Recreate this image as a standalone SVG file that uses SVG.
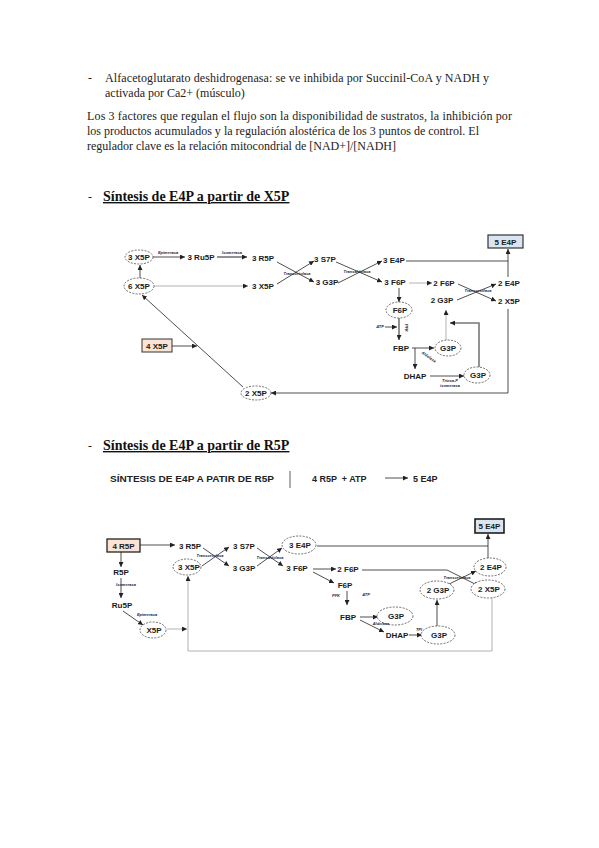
<svg xmlns="http://www.w3.org/2000/svg" width="599" height="848" viewBox="0 0 599 848">
<defs>
<style>
.b{font-family:"Liberation Serif","Times New Roman",serif;font-size:12px;fill:#222}
.h{font-family:"Liberation Serif","Times New Roman",serif;font-size:14px;font-weight:bold;fill:#111;text-decoration:underline}
.t{font-family:"Liberation Sans",Arial,sans-serif;font-size:8px;font-weight:bold;fill:#1a1a1a;text-anchor:middle}
.e{font-family:"Liberation Sans",Arial,sans-serif;font-size:9px;font-weight:bold;fill:#222}
.s{font-family:"Liberation Sans",Arial,sans-serif;font-size:4px;font-style:italic;font-weight:bold;fill:#1a2540;text-anchor:middle}
.ln{fill:none;stroke:#222;stroke-width:0.8}
.lg{fill:none;stroke:#aaa;stroke-width:0.9}
.gk{fill:none;stroke:#777;stroke-width:1.6}
.de{fill:#fff;stroke:#333;stroke-width:0.7;stroke-dasharray:2 1.3}
</style>
<marker id="a" viewBox="0 0 6 6" refX="6" refY="3" markerWidth="5" markerHeight="5" markerUnits="userSpaceOnUse" orient="auto">
<path d="M0,0 L6,3 L0,6 z" fill="#222"/>
</marker>
</defs>
<rect width="599" height="848" fill="#fff"/>

<g id="text">
<text class="b" x="88" y="82">-</text>
<text class="b" x="105" y="82" textLength="384" lengthAdjust="spacing">Alfacetoglutarato deshidrogenasa: se ve inhibida por Succinil-CoA y NADH y</text>
<text class="b" x="105" y="97">activada por Ca2+ (músculo)</text>
<text class="b" x="87" y="120" textLength="425" lengthAdjust="spacing">Los 3 factores que regulan el flujo son la disponibilidad de sustratos, la inhibición por</text>
<text class="b" x="87" y="135" textLength="392" lengthAdjust="spacing">los productos acumulados y la regulación alostérica de los 3 puntos de control. El</text>
<text class="b" x="87" y="150">regulador clave es la relación mitocondrial de [NAD+]/[NADH]</text>
<text class="b" x="88" y="201">-</text>
<text class="h" x="103" y="201">Síntesis de E4P a partir de X5P</text>
<text class="b" x="88" y="450">-</text>
<text class="h" x="103" y="450">Síntesis de E4P a partir de R5P</text>
</g>

<g id="equation">
<text class="e" x="110" y="482" textLength="164" lengthAdjust="spacingAndGlyphs">SÍNTESIS DE E4P A PATIR DE R5P</text>
<line x1="290" y1="471" x2="290" y2="488" stroke="#333" stroke-width="0.8"/>
<text class="e" x="312" y="482" xml:space="preserve">4 R5P  + ATP</text>
<line x1="385" y1="478" x2="408" y2="478" class="ln" marker-end="url(#a)"/>
<text class="e" x="413" y="482">5 E4P</text>
</g>

<g id="connectors1">
<line class="ln" x1="153" y1="257" x2="185" y2="257" marker-end="url(#a)"/>
<line class="gk" x1="217" y1="257" x2="247" y2="257" marker-end="url(#a)"/>
<line class="ln" x1="140" y1="278" x2="140" y2="265" marker-end="url(#a)"/>
<line class="lg" x1="154" y1="286" x2="248" y2="286" marker-end="url(#a)"/>
<line class="ln" x1="277" y1="262" x2="314" y2="282" marker-end="url(#a)"/>
<line class="ln" x1="277" y1="284" x2="314" y2="261" marker-end="url(#a)"/>
<line class="ln" x1="336" y1="262" x2="382" y2="282" marker-end="url(#a)"/>
<line class="ln" x1="338" y1="283" x2="382" y2="261" marker-end="url(#a)"/>
<line class="ln" x1="406" y1="261" x2="508" y2="261"/>
<line class="ln" x1="508" y1="277" x2="508" y2="249" marker-end="url(#a)"/>
<line class="lg" x1="409" y1="283" x2="432" y2="283" marker-end="url(#a)"/>
<line class="ln" x1="458" y1="284" x2="496" y2="301" marker-end="url(#a)"/>
<line class="ln" x1="457" y1="300" x2="496" y2="284" marker-end="url(#a)"/>
<line class="ln" x1="399" y1="288" x2="399" y2="302" stroke-width="1.3" marker-end="url(#a)"/>
<line class="gk" x1="399" y1="318" x2="399" y2="340" marker-end="url(#a)"/>
<line class="ln" x1="385" y1="327" x2="397" y2="327" stroke-width="0.5" marker-end="url(#a)"/>
<line class="ln" x1="412" y1="348" x2="434" y2="348" marker-end="url(#a)"/>
<line class="ln" x1="415" y1="348" x2="415" y2="369" marker-end="url(#a)"/>
<line class="ln" x1="430" y1="376" x2="464" y2="376" stroke-width="1.1" marker-end="url(#a)"/>
<polyline class="gk" points="479,367 479,323 450,323" marker-end="url(#a)"/>
<line class="lg" x1="446" y1="340" x2="446" y2="310" marker-end="url(#a)"/>
<polyline class="ln" points="508,309 508,393 271,393" marker-end="url(#a)"/>
<line class="ln" x1="243" y1="387" x2="142" y2="295" marker-end="url(#a)"/>
<line class="ln" x1="172" y1="346" x2="197" y2="346" marker-end="url(#a)"/>
</g>

<g id="n1-3x5p"><ellipse class="de" cx="139" cy="257" rx="14" ry="7"/><text class="t" x="139" y="260">3 X5P</text></g>
<g id="n1-3ru5p"><text class="t" x="201" y="260">3 Ru5P</text></g>
<g id="n1-3r5p"><text class="t" x="263" y="261">3 R5P</text></g>
<g id="n1-6x5p"><ellipse class="de" cx="139" cy="286" rx="15" ry="8"/><text class="t" x="139" y="289">6 X5P</text></g>
<g id="n1-3x5p-b"><text class="t" x="263" y="289">3 X5P</text></g>
<g id="n1-3s7p"><text class="t" x="325" y="262">3 S7P</text></g>
<g id="n1-3g3p"><text class="t" x="327" y="285">3 G3P</text></g>
<g id="n1-3e4p"><text class="t" x="394" y="263">3 E4P</text></g>
<g id="n1-3f6p"><text class="t" x="395" y="285">3 F6P</text></g>
<g id="n1-5e4p"><rect x="488" y="235" width="35" height="13" fill="#dbe5f1" stroke="#333" stroke-width="1.2"/><text class="t" x="505.5" y="244.5">5 E4P</text></g>
<g id="n1-2f6p"><text class="t" x="444" y="286">2 F6P</text></g>
<g id="n1-2e4p"><text class="t" x="509" y="286">2 E4P</text></g>
<g id="n1-2x5p"><text class="t" x="509" y="304">2 X5P</text></g>
<g id="n1-2g3p"><text class="t" x="442" y="303">2 G3P</text></g>
<g id="n1-f6p"><ellipse class="de" cx="399" cy="310" rx="13" ry="8"/><text class="t" x="400" y="313">F6P</text></g>
<g id="n1-fbp"><text class="t" x="401" y="351">FBP</text></g>
<g id="n1-g3p-a"><ellipse class="de" cx="448" cy="348" rx="13" ry="8"/><text class="t" x="448" y="351">G3P</text></g>
<g id="n1-dhap"><text class="t" x="415" y="379">DHAP</text></g>
<g id="n1-g3p-b"><ellipse class="de" cx="477" cy="375" rx="13" ry="8"/><text class="t" x="478" y="378">G3P</text></g>
<g id="n1-2x5p-b"><ellipse class="de" cx="256" cy="393" rx="15" ry="7"/><text class="t" x="256" y="396">2 X5P</text></g>
<g id="n1-4x5p"><rect x="142" y="339" width="30" height="13" fill="#fbe4d5" stroke="#333" stroke-width="1"/><text class="t" x="157" y="348.5">4 X5P</text></g>

<g id="labels1">
<text class="s" x="168" y="254">Epimerasa</text>
<text class="s" x="232" y="254">Isomerasa</text>
<text class="s" x="297" y="275">Transcetolasa</text>
<text class="s" x="357" y="273">Transaldolasa</text>
<text class="s" x="478" y="292">Transcetolasa</text>
<text class="s" x="405" y="328" transform="rotate(90 405 328)">PFK</text>
<text class="s" x="380" y="328">ATP</text>
<text class="s" x="428" y="358" transform="rotate(35 428 358)">Aldolasa</text>
<text class="s" x="450" y="382">Triosa-P</text>
<text class="s" x="450" y="387">isomerasa</text>
</g>

<g id="connectors2">
<line class="ln" x1="140" y1="545" x2="175" y2="545" stroke="#666" marker-end="url(#a)"/>
<line class="ln" x1="203" y1="548" x2="229" y2="566" marker-end="url(#a)"/>
<line class="ln" x1="202" y1="566" x2="229" y2="547" marker-end="url(#a)"/>
<line class="ln" x1="257" y1="548" x2="283" y2="566" marker-end="url(#a)"/>
<line class="ln" x1="257" y1="566" x2="282" y2="548" marker-end="url(#a)"/>
<line class="ln" x1="317" y1="546" x2="488" y2="546"/>
<line class="ln" x1="488" y1="558" x2="488" y2="534" marker-end="url(#a)"/>
<line class="ln" x1="313" y1="569" x2="336" y2="569" marker-end="url(#a)"/>
<line class="ln" x1="313" y1="572" x2="334" y2="583" stroke-width="0.6" marker-end="url(#a)"/>
<polyline class="ln" points="362,570 447,570 479,586" marker-end="url(#a)"/>
<line class="ln" x1="447" y1="585" x2="476" y2="571" marker-end="url(#a)"/>
<polyline class="lg" points="492,598 492,651 188,651 188,576" marker-end="url(#a)"/>
<line class="lg" x1="167" y1="629" x2="187" y2="629" marker-end="url(#a)"/>
<line class="ln" x1="121" y1="552" x2="121" y2="567" marker-end="url(#a)"/>
<line class="ln" x1="121" y1="578" x2="121" y2="598" marker-end="url(#a)"/>
<line class="ln" x1="123" y1="611" x2="143" y2="625" marker-end="url(#a)"/>
<line class="ln" x1="347" y1="591" x2="347" y2="605" marker-end="url(#a)"/>
<line class="ln" x1="360" y1="617" x2="378" y2="617" stroke-width="1.1" marker-end="url(#a)"/>
<line class="ln" x1="360" y1="620" x2="384" y2="632" marker-end="url(#a)"/>
<line class="ln" x1="409" y1="635" x2="422" y2="635" stroke-width="1.3" marker-end="url(#a)"/>
<line class="ln" x1="437" y1="626" x2="437" y2="600" marker-end="url(#a)"/>
</g>

<g id="n2-4r5p"><rect x="107" y="539" width="33" height="13" fill="#fbe4d5" stroke="#222" stroke-width="1.3"/><text class="t" x="123.5" y="548.5">4 R5P</text></g>
<g id="n2-3r5p"><text class="t" x="190" y="549">3 R5P</text></g>
<g id="n2-3x5p"><ellipse class="de" cx="187" cy="567" rx="14" ry="8"/><text class="t" x="189" y="570">3 X5P</text></g>
<g id="n2-3s7p"><text class="t" x="244" y="549">3 S7P</text></g>
<g id="n2-3g3p"><text class="t" x="244" y="571">3 G3P</text></g>
<g id="n2-3e4p"><ellipse class="de" cx="299" cy="545" rx="17" ry="9"/><text class="t" x="300" y="548">3 E4P</text></g>
<g id="n2-3f6p"><text class="t" x="297" y="571">3 F6P</text></g>
<g id="n2-5e4p"><rect x="475" y="519" width="29" height="14" fill="#dbe5f1" stroke="#111" stroke-width="1.5"/><text class="t" x="489.5" y="529">5 E4P</text></g>
<g id="n2-2f6p"><text class="t" x="348" y="572">2 F6P</text></g>
<g id="n2-f6p"><text class="t" x="345" y="588">F6P</text></g>
<g id="n2-2e4p"><ellipse class="de" cx="490" cy="567" rx="16" ry="9"/><text class="t" x="491" y="570">2 E4P</text></g>
<g id="n2-2g3p"><ellipse class="de" cx="437" cy="590" rx="17" ry="9"/><text class="t" x="438" y="593">2 G3P</text></g>
<g id="n2-2x5p"><ellipse class="de" cx="488" cy="589" rx="17" ry="9"/><text class="t" x="489" y="592">2 X5P</text></g>
<g id="n2-r5p"><text class="t" x="121" y="575" font-weight="normal">R5P</text></g>
<g id="n2-ru5p"><text class="t" x="122" y="608" font-weight="normal">Ru5P</text></g>
<g id="n2-x5p"><ellipse class="de" cx="153" cy="630" rx="13" ry="8"/><text class="t" x="154" y="633" font-weight="normal">X5P</text></g>
<g id="n2-fbp"><text class="t" x="348" y="620">FBP</text></g>
<g id="n2-g3p-a"><ellipse class="de" cx="395" cy="616" rx="18" ry="9"/><text class="t" x="396" y="619">G3P</text></g>
<g id="n2-dhap"><text class="t" x="397" y="638">DHAP</text></g>
<g id="n2-g3p-b"><ellipse class="de" cx="438" cy="635" rx="17" ry="9"/><text class="t" x="439" y="638">G3P</text></g>

<g id="labels2">
<text class="s" x="210" y="557">Transcetolasa</text>
<text class="s" x="270" y="559">Transaldolasa</text>
<text class="s" x="457" y="579">Transcetolasa</text>
<text class="s" x="126" y="586">Isomerasa</text>
<text class="s" x="147" y="616">Epimerasa</text>
<text class="s" x="336" y="597">PFK</text>
<text class="s" x="366" y="596">ATP</text>
<text class="s" x="381" y="625">Aldolasa</text>
<text class="s" x="419" y="631">TPI</text>
</g>
</svg>
